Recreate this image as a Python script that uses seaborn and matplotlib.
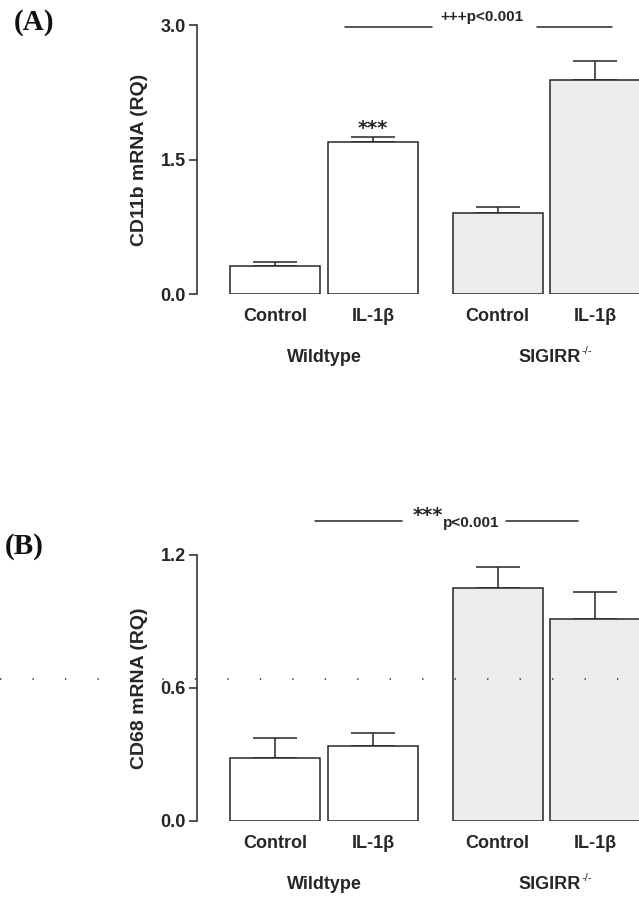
import numpy as np
import pandas as pd
import matplotlib
matplotlib.use("Agg")
import matplotlib.pyplot as plt
from matplotlib.lines import Line2D
import seaborn as sns

# ---- data -------------------------------------------------------------
treatments = ["Control", "IL-1\u03b2", "Control", "IL-1\u03b2"]
strains = ["Wildtype", "Wildtype", "SIGIRR", "SIGIRR"]
positions = [0.0, 1.0, 2.27, 3.27]

cd11b_mean = [0.31, 1.69, 0.90, 2.39]
cd11b_sem = [0.05, 0.06, 0.07, 0.21]

cd68_mean = [0.284, 0.338, 1.051, 0.911]
cd68_sem = [0.090, 0.059, 0.095, 0.122]

group_labels = ["Wildtype", "SIGIRR"]
group_superscripts = ["", "-/-"]

# ---- style ------------------------------------------------------------
sns.set_theme(style="white")
plt.rcParams["font.family"] = ["Liberation Sans", "DejaVu Sans"]
plt.rcParams["font.weight"] = "bold"

INK = "#262626"
STAR_FONT = ["DejaVu Sans"]
palette = {"Wildtype": "#ffffff", "SIGIRR": "#ececec"}

fig = plt.figure(figsize=(6.39, 9.0), dpi=100)
fig.patch.set_facecolor("white")

ax_a = fig.add_axes([0.3083, 0.6733, 0.6917, 0.2989])
ax_b = fig.add_axes([0.3083, 0.0878, 0.6917, 0.2956])


def draw_panel(ax, means, sems, ymax, yticks, ylabel):
    df = pd.DataFrame({"pos": positions, "value": means, "strain": strains})
    sns.barplot(data=df, x="pos", y="value", hue="strain", native_scale=True,
                dodge=False, palette=palette, width=0.92, errorbar=None,
                edgecolor=INK, linewidth=1.1, legend=False, ax=ax, zorder=2)
    ax.errorbar(positions, means, yerr=[np.zeros(len(sems)), sems], fmt="none",
                ecolor=INK, elinewidth=1.1, capsize=16, capthick=1.1, zorder=1)
    ax.set_xlim(-0.80, 3.715)
    ax.set_ylim(0, ymax)
    ax.set_yticks(yticks)
    ax.set_yticklabels([f"{t:.1f}" for t in yticks])
    ax.set_xticks(positions)
    ax.set_xticklabels(treatments)
    ax.set_xlabel("")
    ax.set_ylabel(ylabel, fontsize=14, fontweight="bold", color=INK, labelpad=9)
    for s in ("top", "right", "bottom"):
        ax.spines[s].set_visible(False)
    ax.spines["left"].set_color(INK)
    ax.spines["left"].set_linewidth(1.1)
    ax.tick_params(axis="y", direction="out", length=6, width=1.1, color=INK,
                   labelsize=13, labelcolor=INK, pad=2, left=True)
    ax.tick_params(axis="x", length=0, labelsize=13, labelcolor=INK, pad=10)
    for lab in ax.get_xticklabels() + ax.get_yticklabels():
        lab.set_fontweight("bold")
    # group captions under each pair of bars
    centers = [(positions[0] + positions[1]) / 2, (positions[2] + positions[3]) / 2]
    for cx, txt, sup in zip(centers, group_labels, group_superscripts):
        shift = 2 if sup else 0
        ax.annotate(txt, xy=(cx, 0), xycoords=("data", "axes fraction"),
                    xytext=(shift, -46), textcoords="offset points",
                    ha="center", va="center", fontsize=13, fontweight="bold",
                    color=INK, annotation_clip=False)
        if sup:
            ax.annotate(sup, xy=(cx, 0), xycoords=("data", "axes fraction"),
                        xytext=(25, -41), textcoords="offset points",
                        ha="left", va="center", fontsize=8, fontweight="normal",
                        color=INK, annotation_clip=False)
    ax.set_facecolor("none")


draw_panel(ax_a, cd11b_mean, cd11b_sem, 3.0, [0.0, 1.5, 3.0], "CD11b mRNA (RQ)")
draw_panel(ax_b, cd68_mean, cd68_sem, 1.2, [0.0, 0.6, 1.2], "CD68 mRNA (RQ)")

# ---- significance marks, panel A ---------------------------------------
ax_a.text(positions[1], cd11b_mean[1] + cd11b_sem[1] + 0.10, "***",
          ha="center", va="center", fontsize=14, family=STAR_FONT, color=INK)
ax_a.plot([0.71, 1.60], [2.98, 2.98], color=INK, lw=1.1, clip_on=False)
ax_a.plot([2.67, 3.44], [2.98, 2.98], color=INK, lw=1.1, clip_on=False)
ax_a.text(2.11, 3.09, "+++p<0.001", ha="center", va="center", fontsize=11,
          fontweight="bold", color=INK, clip_on=False)

# ---- significance marks, panel B ---------------------------------------
ax_b.plot([0.41, 1.29], [1.353, 1.353], color=INK, lw=1.1, clip_on=False)
ax_b.plot([2.36, 3.09], [1.353, 1.353], color=INK, lw=1.1, clip_on=False)
ax_b.text(1.71, 1.380, "***", ha="right", va="center", fontsize=14,
          family=STAR_FONT, color=INK, clip_on=False)
ax_b.text(1.71, 1.345, "p<0.001", ha="left", va="center", fontsize=11,
          fontweight="bold", color=INK, clip_on=False)

# ---- panel letters ------------------------------------------------------
fig.text(34 / 639, 1 - 22 / 900, "(A)", ha="center", va="center",
         fontsize=21, fontweight="bold", family=["Liberation Serif", "DejaVu Serif"],
         color="#111111")
fig.text(24 / 639, 1 - 547 / 900, "(B)", ha="center", va="center",
         fontsize=21, fontweight="bold", family=["Liberation Serif", "DejaVu Serif"],
         color="#111111")

# faint dotted rule running across the lower panel
fig.add_artist(Line2D([0, 1], [1 - 679 / 900] * 2, transform=fig.transFigure,
                      color="#555555", lw=1.4, linestyle=(0, (0.7, 16.0)),
                      zorder=10))

fig.savefig("out.png", dpi=100, facecolor="white")
